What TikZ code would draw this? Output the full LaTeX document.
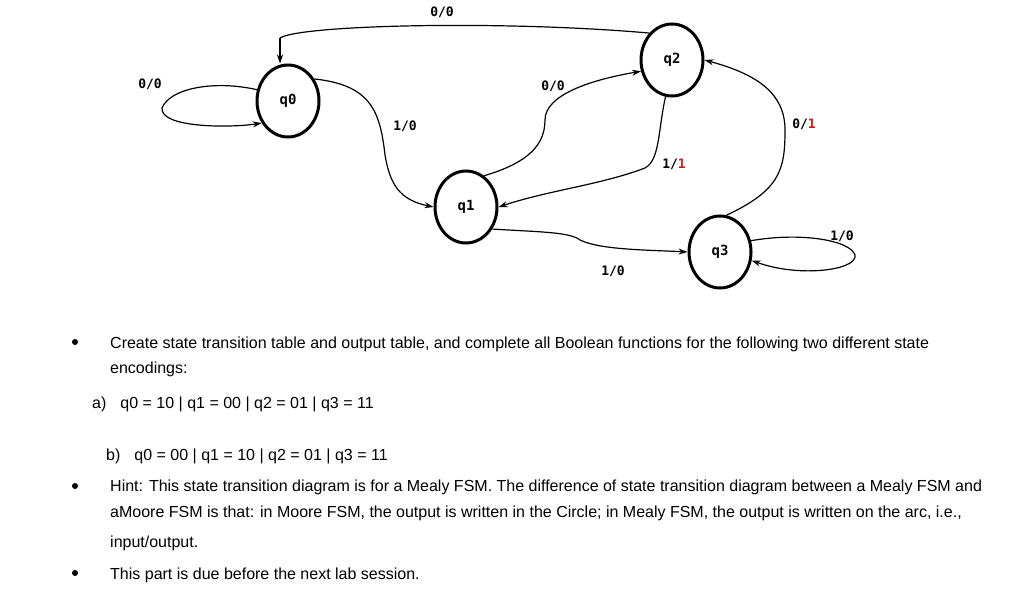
\documentclass[tikz,border=0pt]{standalone}
\usepackage{fontspec}
\setmainfont{Liberation Sans}
\newfontfamily\lblfont{DejaVu Sans Mono}
\usetikzlibrary{arrows.meta,shapes.geometric}
\definecolor{lred}{RGB}{200,30,30}
\begin{document}
\begin{tikzpicture}[x=1pt,y=-1pt,
  st/.style={ellipse,draw,line width=3pt,minimum width=62pt,minimum height=72pt,inner sep=0pt,font=\lblfont\bfseries\fontsize{14}{16}\selectfont},
  lbl/.style={font=\lblfont\bfseries\fontsize{13}{15}\selectfont,inner sep=1pt},
  tr/.style={line width=1.2pt,-{Stealth[length=9pt,width=6pt]}},
  txt/.style={anchor=west,inner sep=0pt,font=\fontsize{16}{18}\selectfont},
  bul/.style={circle,fill,inner sep=0pt,minimum size=6pt}]
\useasboundingbox (0,0) rectangle (1024,604);
\node[st] (q0) at (288,101) {q0};
\node[st] (q1) at (466,207) {q1};
\node[st] (q2) at (672,60) {q2};
\node[st] (q3) at (720,252) {q3};
\coordinate (c1) at (280,38);
\draw[line width=1.2pt] (q2.130) .. controls (500,20) and (300,25) .. (c1);
\draw[tr] (c1) -- (q0.north -| c1);
\node[lbl] (l1) at (442,12) {0/0};
\draw[tr] (q0.160) .. controls (215,80) and (170,88) .. (162,108) .. controls (160,128) and (230,128) .. (q0.220);
\node[lbl] (l2) at (150,84) {0/0};
\draw[tr] (q0.40) .. controls (370,85) and (380,110) .. (385,155) .. controls (390,185) and (400,200) .. (q1.west);
\node[lbl] (l3) at (405,126) {1/0};
\draw[tr] (q1.60) .. controls (520,165) and (545,150) .. (545,120) .. controls (545,95) and (590,80) .. (q2.200);
\node[lbl] (l4) at (553,86) {0/0};
\draw[tr] (q2.260) .. controls (658,130) and (660,160) .. (645,168) .. controls (600,185) and (550,190) .. (q1.east);
\node[lbl] (l5) at (674,164) {1/\textcolor{lred}{1}};
\draw[tr] (q3.80) .. controls (780,190) and (785,170) .. (785,130) .. controls (785,95) and (760,75) .. (q2.east);
\node[lbl] (l6) at (804,124) {0/\textcolor{lred}{1}};
\draw[tr] (q1.-40) .. controls (540,232) and (570,232) .. (580,240) .. controls (600,250) and (650,250) .. (q3.west);
\node[lbl] (l7) at (613,271) {1/0};
\draw[tr] (q3.20) .. controls (800,232) and (850,240) .. (855,255) .. controls (858,270) and (800,278) .. (q3.-15);
\node[lbl] (l8) at (842,236) {1/0};
\node[bul] (b1) at (75,342) {};
\node[txt] (t1) at (110,344) {Create state transition table and output table, and complete all Boolean functions for the following two different state};
\node[txt] (t2) at (110,369) {encodings:};
\node[txt] (t3) at (92,404) {a)\hspace{14pt}q0 = 10 | q1 = 00 | q2 = 01 | q3 = 11};
\node[txt] (t4) at (106,456) {b)\hspace{14pt}q0 = 00 | q1 = 10 | q2 = 01 | q3 = 11};
\node[bul] (b2) at (75,486) {};
\node[txt] (t5) at (110,487) {Hint: This state transition diagram is for a Mealy FSM. The difference of state transition diagram between a Mealy FSM and};
\node[txt] (t6) at (110,513) {aMoore FSM is that: in Moore FSM, the output is written in the Circle; in Mealy FSM, the output is written on the arc, i.e.,};
\node[txt] (t7) at (110,543) {input/output.};
\node[bul] (b3) at (75,573) {};
\node[txt] (t8) at (110,575) {This part is due before the next lab session.};
\end{tikzpicture}
\end{document}
